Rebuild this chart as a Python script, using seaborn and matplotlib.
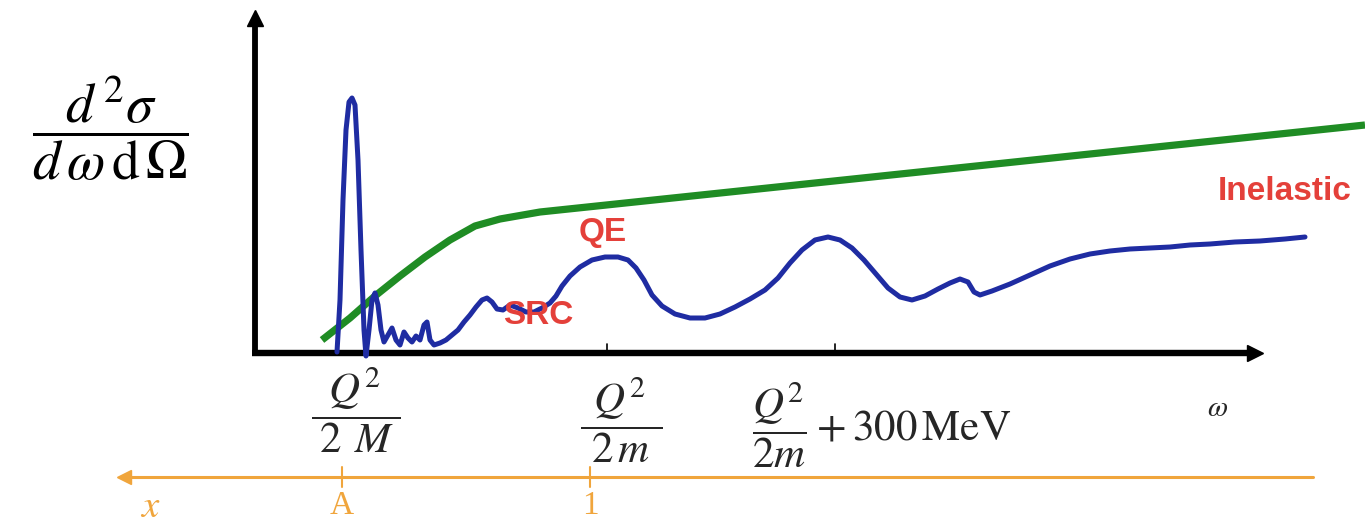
import numpy as np
import pandas as pd
import matplotlib
matplotlib.use("Agg")
import matplotlib.pyplot as plt
import seaborn as sns

# ---------------- data (schematic, arbitrary units: omega right, sigma up) ----------------
blue_omega = [82, 85, 88, 91, 94, 97, 100, 103, 106, 109, 111, 114, 117, 120, 123, 126, 129,
              133, 137, 141, 145, 149, 153, 157, 161, 165, 169, 172, 175, 179, 185, 191, 197,
              203, 209, 215, 221, 227, 232, 237, 242, 248, 255, 263, 271, 279, 287, 295, 301,
              307, 315, 325, 337, 350, 363, 373, 381, 389, 397, 407, 420, 435, 450, 465, 480,
              495, 510, 523, 535, 547, 560, 573, 585, 597, 609, 621, 633, 645, 657, 670, 683,
              695, 705, 713, 719, 725, 737, 755, 775, 795, 815, 835, 855, 875, 895, 915, 935,
              955, 980, 1005, 1030, 1050]
blue_sigma = [1, 53, 153, 223, 251, 255, 248, 193, 103, 23, -3, 23, 53, 60, 48, 23, 11,
              18, 25, 13, 8, 21, 15, 11, 17, 13, 28, 31, 13, 8, 10, 13, 18,
              23, 31, 38, 46, 53, 55, 51, 44, 43, 48, 45, 41, 41, 45, 50, 57,
              67, 77, 86, 93, 96, 96, 93, 85, 73, 58, 47, 39, 35, 35, 39, 46,
              54, 63, 75, 90, 103, 113, 116, 113, 105, 93, 79, 65, 56, 53, 57, 64,
              70, 74, 71, 61, 58, 62, 69, 78, 87, 94, 99, 102, 104, 105, 106, 108,
              109, 111, 112, 114, 116]

green_omega = [67, 95, 120, 145, 170, 195, 220, 245, 285, 1110]
green_sigma = [13, 35, 57, 77, 96, 113, 127, 134, 141, 228]

omega_tick_pos = [88, 352, 580]
x_tick_pos = [87, 335]
x_tick_labels = ["A", "1"]
region_labels = ["SRC", "QE", "Inelastic"]
region_pos_omega = [283, 348, 1030]
region_pos_sigma = [37, 121, 161]

# ---------------- styling ----------------
sns.set_theme(style="white")
plt.rcParams["mathtext.fontset"] = "stix"
plt.rcParams["font.family"] = ["DejaVu Sans"]

BLUE = "#1f2ca2"
GREEN = "#1f8c24"
RED = "#e4403a"
ORANGE = "#f0a53c"

fig = plt.figure(figsize=(13.65, 5.27), dpi=100)
ax = fig.add_axes([0, 0, 1, 1])
ax.set_xlim(-255, 1110)
ax.set_ylim(-174, 353)
ax.axis("off")

# axes of the sketch
ax.plot([0, 0], [-3, 330], color="black", lw=4.2, solid_capstyle="butt", zorder=3)
ax.plot([0], [335], marker="^", color="black", ms=11, zorder=3)
ax.plot([-3, 996], [0, 0], color="black", lw=4.6, solid_capstyle="butt", zorder=3)
ax.plot([1000], [0], marker=">", color="black", ms=12, zorder=3)
for t in omega_tick_pos[1:]:
    ax.plot([t, t], [0, 9], color="black", lw=1.2, zorder=3)

# curves
sns.lineplot(x=green_omega, y=green_sigma, ax=ax, color=GREEN, lw=5.2, sort=False,
             estimator=None, zorder=2, solid_capstyle="butt")
sns.lineplot(x=blue_omega, y=blue_sigma, ax=ax, color=BLUE, lw=3.6, sort=False,
             estimator=None, zorder=4)

# y label
ax.text(-145, 225, r"$\dfrac{\;d^{\,2}\sigma\;}{d\,\omega\,\mathrm{d}\,\Omega}$",
        fontsize=40, ha="center", va="center", color="black")

# omega tick labels
ax.text(101, -57, r"$\dfrac{\;\;Q^{2}\;\;}{2\;\,M}$", fontsize=31, ha="center", va="center")
ax.text(366, -67, r"$\dfrac{\;\,Q^{2}\;\,}{2\,m}$", fontsize=31, ha="center", va="center")
ax.text(497, -72, r"$\dfrac{Q^{2}}{2m}+300\,\mathrm{MeV}$", fontsize=31, ha="left", va="center")
ax.text(963, -55, r"$\omega$", fontsize=21, ha="center", va="center")

# region labels
for lab, xo, yo in zip(region_labels, region_pos_omega, region_pos_sigma):
    ax.text(xo, yo, lab, fontsize=24, color=RED, fontweight="bold",
            family=["Liberation Sans", "DejaVu Sans"], ha="center", va="center", zorder=5)

# orange x scale
ax.plot([-125, 1058], [-124, -124], color=ORANGE, lw=2.2, zorder=3)
ax.plot([-131], [-124], marker="<", color=ORANGE, ms=10, zorder=3)
for t, lab in zip(x_tick_pos, x_tick_labels):
    ax.plot([t, t], [-114, -134], color=ORANGE, lw=1.5, zorder=3)
    ax.text(t, -138, lab, fontsize=24, color=ORANGE, ha="center", va="top",
            family=["Liberation Serif", "DejaVu Serif"])
ax.text(-105, -153, r"$x$", fontsize=28, color=ORANGE, ha="center", va="center")

fig.savefig("out.png", dpi=100)
